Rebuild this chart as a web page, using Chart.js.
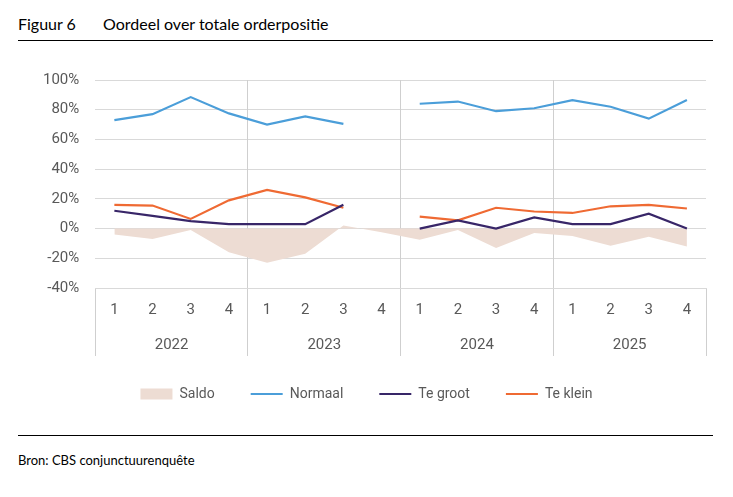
<!DOCTYPE html>
<html>
<head>
<meta charset="utf-8">
<script src="https://cdn.jsdelivr.net/npm/chart.js@4.4.1/dist/chart.umd.min.js"></script>
<style>
  body { margin: 0; width: 733px; height: 497px; background: #fff; position: relative; overflow: hidden; font-family: Lato, "Open Sans", sans-serif; }
  .title { position: absolute; left: 18px; top: 14px; font-size: 16px; color: #000; white-space: nowrap; }
  .title span { display: inline-block; width: 85px; }
  .rule { position: absolute; left: 18px; width: 695px; border-top: 1.3px solid #000; }
  .bron { position: absolute; left: 18px; top: 452px; font-size: 13px; color: #000; }
  #wrap { position: absolute; left: 0; top: 55px; width: 733px; height: 361px; }
</style>
</head>
<body>
<div class="title"><span>Figuur 6</span>Oordeel over totale orderpositie</div>
<div class="rule" style="top:40px"></div>
<div id="wrap"><canvas id="chart"></canvas></div>
<div class="rule" style="top:435px"></div>
<div class="bron">Bron: CBS conjunctuurenquête</div>

<script>
// kwartalen en jaren
const quarters = ['1', '2', '3', '4', '1', '2', '3', '4', '1', '2', '3', '4', '1', '2', '3', '4'];
const years = ['2022', '2023', '2024', '2025'];

// reeksen in procenten (2023 kw4 ontbreekt)
const saldo   = [-4, -7, -1, -16, -23, -17, 2, -2.5, -7.5, -1, -13, -3, -5, -11.5, -5.5, -12];
const normaal = [73, 77, 88.5, 77.5, 70, 75.5, 70.5, null, 84, 85.5, 79, 81, 86.5, 82, 74, 86.5];
const teGroot = [12, 8.5, 5, 3, 3, 3, 16, null, 0, 5.5, 0, 7.5, 3, 3, 10, 0];
const teKlein = [16, 15.5, 6.5, 19, 26, 21, 14, null, 8, 5.5, 14, 11.5, 10.5, 15, 16, 13.5];

const yTicks = [-40, -20, 0, 20, 40, 60, 80, 100];

const grey = '#595959';
const sep = '#cfcfcf';
const fontFam = 'Roboto, sans-serif';

// legenda iets hoger zetten, zoals in het origineel
const legendShift = {
  id: 'legendShift',
  afterLayout(chart) {
    chart.legend.top -= 5;
    chart.legend.bottom -= 5;
  }
};

const ctx = document.getElementById('chart').getContext('2d');
new Chart(ctx, {
  type: 'line',
  data: {
    labels: quarters,
    datasets: [
      { label: 'Saldo', data: saldo, fill: 'origin', backgroundColor: '#eddcd3', borderColor: '#eddcd3',
        borderWidth: 0, pointRadius: 0, pointStyle: 'rect', tension: 0, order: 4 },
      { label: 'Normaal', data: normaal, borderColor: '#4b9ed9', backgroundColor: '#4b9ed9',
        borderWidth: 2.2, pointRadius: 0, pointStyle: 'line', order: 1 },
      { label: 'Te groot', data: teGroot, borderColor: '#382668', backgroundColor: '#382668',
        borderWidth: 2.2, pointRadius: 0, pointStyle: 'line', order: 2 },
      { label: 'Te klein', data: teKlein, borderColor: '#ef6a33', backgroundColor: '#ef6a33',
        borderWidth: 2.2, pointRadius: 0, pointStyle: 'line', order: 3 }
    ]
  },
  options: {
    responsive: true,
    maintainAspectRatio: false,
    animation: false,
    layout: { padding: { left: 27, right: 27, top: 11, bottom: 0 } },
    scales: {
      y: {
        min: -40, max: 100,
        afterBuildTicks: s => { s.ticks = yTicks.map(v => ({ value: v })); },
        ticks: { padding: 16, color: grey, font: { family: fontFam, size: 15 }, callback: v => v + '%' },
        grid: { color: '#d9d9d9', drawTicks: false },
        border: { display: false }
      },
      x: {
        weight: 0,
        offset: true,
        grid: {
          offset: true,
          color: c => (c.index % 4 === 0 && c.index > 0) ? sep : 'rgba(0,0,0,0)',
          tickColor: c => (c.index === undefined || c.index % 4 === 0) ? sep : 'rgba(0,0,0,0)',
          tickLength: 36
        },
        border: { color: '#d9d9d9' },
        ticks: { padding: -23, color: grey, font: { family: fontFam, size: 15 }, maxRotation: 0, autoSkip: false },
        afterFit: s => { s.height = 36; }
      },
      x2: {
        type: 'category',
        labels: years,
        position: 'bottom',
        weight: 1,
        offset: true,
        grid: { offset: true, drawOnChartArea: false, color: sep, tickColor: sep, tickLength: 32 },
        border: { display: false },
        ticks: { padding: -20, color: grey, font: { family: fontFam, size: 15 }, maxRotation: 0 },
        afterFit: s => { s.height = 32; }
      }
    },
    plugins: {
      legend: {
        position: 'bottom',
        labels: { usePointStyle: true, pointStyleWidth: 32, boxHeight: 11, padding: 36, color: grey,
                  font: { family: fontFam, size: 14 },
                  sort: (a, b) => a.datasetIndex - b.datasetIndex }
      },
      tooltip: { enabled: false }
    }
  },
  plugins: [legendShift]
});
</script>
</body>
</html>
